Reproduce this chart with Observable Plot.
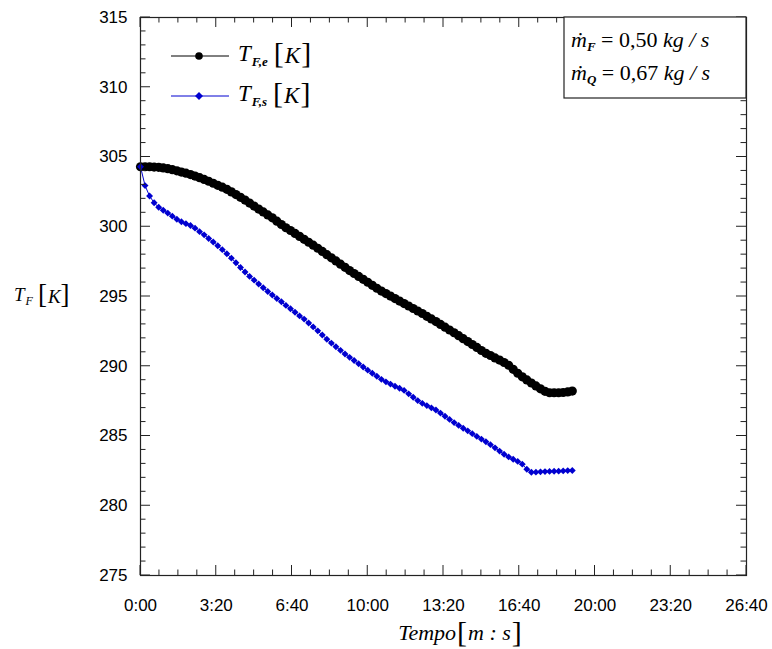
<!DOCTYPE html>
<html><head><meta charset="utf-8">
<script src="https://cdn.jsdelivr.net/npm/d3@7"></script>
<script src="https://cdn.jsdelivr.net/npm/@observablehq/plot@0.6"></script>
<style>body{margin:0;background:#fff;} svg{display:block;}</style>
</head><body><div id="chart"></div>
<script>
// time in seconds
const time = [0,12,24,36,48,60,72,84,96,108,120,132,144,156,168,180,192,204,216,228,240,252,264,276,288,300,312,324,336,348,360,372,384,396,408,420,432,444,456,468,480,492,504,516,528,540,552,564,576,588,600,612,624,636,648,660,672,684,696,708,720,732,744,756,768,780,792,804,816,828,840,852,864,876,888,900,912,924,936,948,960,972,984,996,1008,1020,1032,1044,1056,1068,1080,1092,1104,1116,1128,1140];
// T_F,e [K]
const tfe = [304.30,304.30,304.30,304.28,304.26,304.22,304.16,304.09,304.01,303.92,303.84,303.74,303.63,303.52,303.39,303.26,303.12,302.97,302.84,302.68,302.50,302.31,302.11,301.91,301.70,301.48,301.27,301.06,300.85,300.64,300.40,300.16,299.93,299.73,299.52,299.31,299.10,298.89,298.68,298.46,298.23,298.00,297.77,297.55,297.32,297.09,296.86,296.65,296.44,296.23,296.02,295.80,295.59,295.39,295.21,295.03,294.85,294.67,294.49,294.32,294.14,293.96,293.78,293.58,293.39,293.20,293.00,292.80,292.60,292.40,292.19,291.98,291.77,291.56,291.35,291.13,290.93,290.77,290.60,290.44,290.27,290.07,289.78,289.50,289.24,289.02,288.80,288.59,288.38,288.20,288.10,288.10,288.10,288.12,288.16,288.22];
// T_F,s [K]
const tfs = [304.30,302.95,302.20,301.72,301.40,301.18,300.98,300.76,300.54,300.36,300.22,300.09,299.90,299.65,299.42,299.16,298.91,298.64,298.36,298.06,297.75,297.42,297.08,296.76,296.44,296.17,295.90,295.63,295.36,295.11,294.86,294.62,294.36,294.12,293.87,293.61,293.38,293.10,292.82,292.54,292.24,291.94,291.66,291.40,291.14,290.88,290.64,290.41,290.18,289.95,289.72,289.50,289.28,289.06,288.88,288.72,288.57,288.42,288.27,288.02,287.78,287.54,287.34,287.18,287.02,286.86,286.64,286.42,286.19,285.96,285.76,285.56,285.37,285.17,284.97,284.78,284.59,284.38,284.15,283.92,283.69,283.50,283.33,283.18,282.98,282.62,282.40,282.41,282.43,282.45,282.46,282.47,282.48,282.50,282.52,282.53];
const xMajor = [0,200,400,600,800,1000,1200,1400,1600];
const xMinor = [50,100,150,250,300,350,450,500,550,650,700,750,850,900,950,1050,1100,1150,1250,1300,1350,1450,1500,1550];
const yMajor = [275,280,285,290,295,300,305,310,315];
const yMinor = [276,277,278,279,281,282,283,284,286,287,288,289,291,292,293,294,296,297,298,299,301,302,303,304,306,307,308,309,311,312,313,314];

const fmt = s => `${Math.floor(s/60)}:${String(s%60).padStart(2,"0")}`;
const dataE = time.map((t,i)=>({t, v: tfe[i]}));
const dataS = time.map((t,i)=>({t, v: tfs[i]}));
const BLUE = "#0000d0";

const plot = Plot.plot({
  width: 772, height: 649,
  marginLeft: 140, marginRight: 26, marginTop: 17, marginBottom: 74,
  x: {domain: [0,1600]},
  y: {domain: [275,315]},
  style: {fontFamily: "'Liberation Sans', Arial, sans-serif", fontSize: "17px", color: "#000", background: "#fff"},
  marks: [
    Plot.axisX({ticks: xMajor, tickSize: 0, tickPadding: 23, tickFormat: fmt, label: null}),
    Plot.axisY({ticks: yMajor, tickSize: 0, tickPadding: 13, label: null}),
    Plot.line(dataE, {x: "t", y: "v", stroke: "#000", strokeWidth: 1}),
    Plot.dot(dataE, {x: "t", y: "v", r: 4.6, fill: "#000", stroke: "none"}),
    Plot.line(dataS, {x: "t", y: "v", stroke: BLUE, strokeWidth: 1}),
    Plot.dot(dataS, {x: "t", y: "v", r: 3.1, symbol: "diamond2", fill: BLUE, stroke: "none"}),
    Plot.frame({stroke: "#222", strokeWidth: 1.2})
  ]
});
document.getElementById("chart").appendChild(plot);

const svg = d3.select(plot);
const xs = plot.scale("x"), ys = plot.scale("y");
const X = v => xs.apply(v), Y = v => ys.apply(v);
const x0 = X(0), x1 = X(1600), y0 = Y(275), y1 = Y(315);
const tg = svg.append("g").attr("stroke", "#222").attr("stroke-width", 1);
function xt(vals, len) {
  for (const v of vals) {
    tg.append("line").attr("x1", X(v)).attr("x2", X(v)).attr("y1", y0).attr("y2", y0 - len);
    tg.append("line").attr("x1", X(v)).attr("x2", X(v)).attr("y1", y1).attr("y2", y1 + len);
  }
}
function yt(vals, len) {
  for (const v of vals) {
    tg.append("line").attr("y1", Y(v)).attr("y2", Y(v)).attr("x1", x0).attr("x2", x0 + len);
    tg.append("line").attr("y1", Y(v)).attr("y2", Y(v)).attr("x1", x1).attr("x2", x1 - len);
  }
}
xt(xMajor, 10); xt(xMinor, 5.5); yt(yMajor, 10); yt(yMinor, 5.5);

const SERIF = "'Liberation Serif', 'Times New Roman', serif";
function rich(x, y, size, parts, anchor) {
  const t = svg.append("text").attr("x", x).attr("y", y)
    .attr("font-family", SERIF).attr("font-size", size).attr("fill", "#000")
    .attr("text-anchor", anchor || "start");
  for (const p of parts) {
    const s = t.append("tspan").text(p.t);
    s.attr("font-style", p.up ? "normal" : "italic");
    if (p.fs) s.attr("font-size", p.fs);
    if (p.dy) s.attr("dy", p.dy);
    if (p.dx) s.attr("dx", p.dx);
    if (p.fw) s.attr("font-weight", p.fw);
  }
  return t;
}

// y-axis title
rich(14, 301, 19, [
  {t: "T"}, {t: "F", fs: 12, dy: 4, dx: 1},
  {t: "[", up: true, fs: 27, dy: -2, dx: 5}, {t: "K", dx: 1}, {t: "]", up: true, fs: 27, dx: 0}
]);
// x-axis title
rich(460, 640, 22, [
  {t: "Tempo"}, {t: "[", up: true, fs: 30, dy: 2, dx: 1}, {t: "m : s", dy: -2, dx: 1}, {t: "]", up: true, fs: 30, dy: 2, dx: 1}
], "middle");

// legend
const lg = svg.append("g");
lg.append("line").attr("x1", 171).attr("x2", 229).attr("y1", 56).attr("y2", 56).attr("stroke", "#000").attr("stroke-width", 1);
lg.append("circle").attr("cx", 199).attr("cy", 56).attr("r", 3.8).attr("fill", "#000");
lg.append("line").attr("x1", 171).attr("x2", 229).attr("y1", 96).attr("y2", 96).attr("stroke", BLUE).attr("stroke-width", 1);
lg.append("path").attr("d", "M199,92L203,96L199,100L195,96Z").attr("fill", BLUE);
rich(238, 61, 23, [
  {t: "T"}, {t: "F,e", fs: 13, dy: 5, dx: 1, fw: "bold"},
  {t: "[", up: true, fs: 30, dy: -3, dx: 6}, {t: "K", dx: 1}, {t: "]", up: true, fs: 30, dx: 1}
]);
rich(238, 101, 23, [
  {t: "T"}, {t: "F,s", fs: 13, dy: 5, dx: 1, fw: "bold"},
  {t: "[", up: true, fs: 30, dy: -3, dx: 6}, {t: "K", dx: 1}, {t: "]", up: true, fs: 30, dx: 1}
]);

// annotation box
svg.append("rect").attr("x", 564).attr("y", Y(315)).attr("width", x1 - 564).attr("height", 98 - Y(315))
  .attr("fill", "#fff").attr("stroke", "#222").attr("stroke-width", 1.2);
rich(571, 47, 22, [
  {t: "ṁ"}, {t: "F", fs: 13, dy: 4, fw: "bold"}, {t: " = 0,50 ", up: true, dy: -4}, {t: "kg / s"}
]);
rich(571, 80, 22, [
  {t: "ṁ"}, {t: "Q", fs: 13, dy: 4, fw: "bold"}, {t: " = 0,67 ", up: true, dy: -4}, {t: "kg / s"}
]);
</script>
</body></html>
